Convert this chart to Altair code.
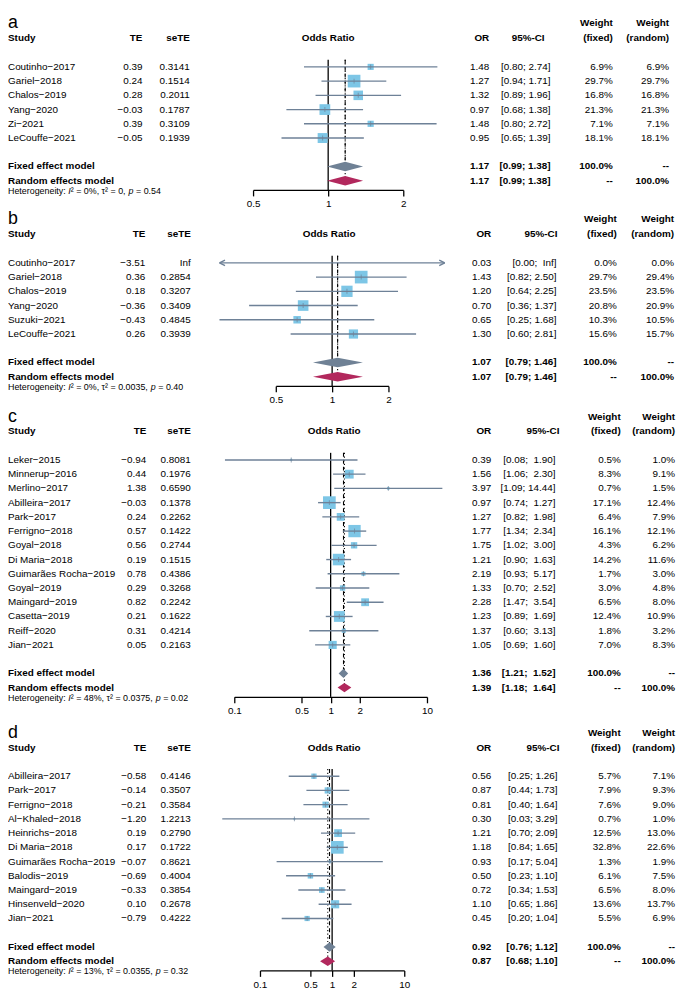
import altair as alt
import pandas as pd

FONT = "Liberation Sans"
MINUS = "\u2212"
NBSP = "\u00a0"
LINE_COL = "#6E8197"
SQ_COL = "#7DC6E6"
FIX_COL = "#6F8195"
RAN_COL = "#B2285D"
INF = float("inf")
ROW_PX = 14.4

# ---------------- panel a ----------------
a_study = ["Coutinho-2017", "Gariel-2018", "Chalos-2019", "Yang-2020", "Zi-2021", "LeCouffe-2021"]
a_te = [0.39, 0.24, 0.28, -0.03, 0.39, -0.05]
a_sete = [0.3141, 0.1514, 0.2011, 0.1787, 0.3109, 0.1939]
a_or = [1.48, 1.27, 1.32, 0.97, 1.48, 0.95]
a_lo = [0.80, 0.94, 0.89, 0.68, 0.80, 0.65]
a_hi = [2.74, 1.71, 1.96, 1.38, 2.72, 1.39]
a_wf = [6.9, 29.7, 16.8, 21.3, 7.1, 18.1]
a_wr = [6.9, 29.7, 16.8, 21.3, 7.1, 18.1]
a_fixed = [1.17, 0.99, 1.38]
a_random = [1.17, 0.99, 1.38]
a_het = ["0%", "0", "0.54"]
a_ticks = [0.5, 1, 2]
a_xlim = [0.4, 3.0]

# ---------------- panel b ----------------
b_study = ["Coutinho-2017", "Gariel-2018", "Chalos-2019", "Yang-2020", "Suzuki-2021", "LeCouffe-2021"]
b_te = [-3.51, 0.36, 0.18, -0.36, -0.43, 0.26]
b_sete = [INF, 0.2854, 0.3207, 0.3409, 0.4845, 0.3939]
b_or = [0.03, 1.43, 1.20, 0.70, 0.65, 1.30]
b_lo = [0.00, 0.82, 0.64, 0.36, 0.25, 0.60]
b_hi = [INF, 2.50, 2.25, 1.37, 1.68, 2.81]
b_wf = [0.0, 29.7, 23.5, 20.8, 10.3, 15.6]
b_wr = [0.0, 29.4, 23.5, 20.9, 10.5, 15.7]
b_fixed = [1.07, 0.79, 1.46]
b_random = [1.07, 0.79, 1.46]
b_het = ["0%", "0.0035", "0.40"]
b_ticks = [0.5, 1, 2]
b_xlim = [0.25, 4.0]

# ---------------- panel c ----------------
c_study = ["Leker-2015", "Minnerup-2016", "Merlino-2017", "Abilleira-2017", "Park-2017",
           "Ferrigno-2018", "Goyal-2018", "Di Maria-2018", "Guimarães Rocha-2019", "Goyal-2019",
           "Maingard-2019", "Casetta-2019", "Reiff-2020", "Jian-2021"]
c_te = [-0.94, 0.44, 1.38, -0.03, 0.24, 0.57, 0.56, 0.19, 0.78, 0.29, 0.82, 0.21, 0.31, 0.05]
c_sete = [0.8081, 0.1976, 0.6590, 0.1378, 0.2262, 0.1422, 0.2744, 0.1515, 0.4386, 0.3268,
          0.2242, 0.1622, 0.4214, 0.2163]
c_or = [0.39, 1.56, 3.97, 0.97, 1.27, 1.77, 1.75, 1.21, 2.19, 1.33, 2.28, 1.23, 1.37, 1.05]
c_lo = [0.08, 1.06, 1.09, 0.74, 0.82, 1.34, 1.02, 0.90, 0.93, 0.70, 1.47, 0.89, 0.60, 0.69]
c_hi = [1.90, 2.30, 14.44, 1.27, 1.98, 2.34, 3.00, 1.63, 5.17, 2.52, 3.54, 1.69, 3.13, 1.60]
c_wf = [0.5, 8.3, 0.7, 17.1, 6.4, 16.1, 4.3, 14.2, 1.7, 3.0, 6.5, 12.4, 1.8, 7.0]
c_wr = [1.0, 9.1, 1.5, 12.4, 7.9, 12.1, 6.2, 11.6, 3.0, 4.8, 8.0, 10.9, 3.2, 8.3]
c_fixed = [1.36, 1.21, 1.52]
c_random = [1.39, 1.18, 1.64]
c_het = ["48%", "0.0375", "0.02"]
c_ticks = [0.1, 0.5, 1, 2, 10]
c_xlim = [0.05, 20.0]

# ---------------- panel d ----------------
d_study = ["Abilleira-2017", "Park-2017", "Ferrigno-2018", "Al-Khaled-2018", "Heinrichs-2018",
           "Di Maria-2018", "Guimarães Rocha-2019", "Balodis-2019", "Maingard-2019",
           "Hinsenveld-2020", "Jian-2021"]
d_te = [-0.58, -0.14, -0.21, -1.20, 0.19, 0.17, -0.07, -0.69, -0.33, 0.10, -0.79]
d_sete = [0.4146, 0.3507, 0.3584, 1.2213, 0.2790, 0.1722, 0.8621, 0.4004, 0.3854, 0.2678, 0.4222]
d_or = [0.56, 0.87, 0.81, 0.30, 1.21, 1.18, 0.93, 0.50, 0.72, 1.10, 0.45]
d_lo = [0.25, 0.44, 0.40, 0.03, 0.70, 0.84, 0.17, 0.23, 0.34, 0.65, 0.20]
d_hi = [1.26, 1.73, 1.64, 3.29, 2.09, 1.65, 5.04, 1.10, 1.53, 1.86, 1.04]
d_wf = [5.7, 7.9, 7.6, 0.7, 12.5, 32.8, 1.3, 6.1, 6.5, 13.6, 5.5]
d_wr = [7.1, 9.3, 9.0, 1.0, 13.0, 22.6, 1.9, 7.5, 8.0, 13.7, 6.9]
d_fixed = [0.92, 0.76, 1.12]
d_random = [0.87, 0.68, 1.10]
d_het = ["13%", "0.0355", "0.32"]
d_ticks = [0.1, 0.5, 1, 2, 10]
d_xlim = [0.02, 10.0]

# ---------------- layout (page pixel positions) ----------------
LAYOUT = {
    "a": dict(top=-1.45, te=144, sete=192, odds=332, orx=495, ci=557, cih=551, wf=620, wr=677, x0=256, x1=408),
    "b": dict(top=-1.75, te=147, sete=193, odds=333, orx=497, ci=563, cih=564, wf=624, wr=682, x0=279, x1=393),
    "c": dict(top=-1.85, te=148, sete=193, odds=338, orx=497, ci=562, cih=566, wf=628, wr=683, x0=237, x1=432),
    "d": dict(top=-2.2, te=148, sete=193, odds=338, orx=497, ci=564, cih=566, wf=628, wr=683, x0=263, x1=409),
}
WIDTH = 677
HET_SIZE = 9

# approximate Liberation Sans advance widths (per 1000 em) for the heterogeneity line
CHAR_W = {"H": 722, "e": 556, "t": 278, "r": 333, "o": 556, "g": 556, "n": 556, "i": 222,
          "y": 500, ":": 278, " ": 278, "I": 278, "\u00b2": 333, "=": 584, "%": 889,
          ",": 278, ".": 278, "\u03c4": 441, "p": 556}


def text_w(s, size):
    return sum(CHAR_W.get(ch, 556) for ch in s) * size / 1000.0


def num(v, d=2):
    return f"{v:.{d}f}".replace("-", MINUS)


def build(letter, study, te, sete, orr, lo, hi, wf, wr, fixed, random, het, ticks, xlim):
    L = LAYOUT[letter]
    n = len(study)
    rows = [i + 2 for i in range(n)]
    r_fix, r_ran = n + 3, n + 4
    r_axis = n + 4.65
    top = L["top"]
    height = (r_axis - top) * ROW_PX

    ysc = alt.Scale(domain=[top, r_axis], reverse=True, nice=False, zero=False)
    xsc = alt.Scale(type="log", domain=[ticks[0], ticks[-1]], range=[L["x0"] - 8, L["x1"] - 8], nice=False)
    xax = alt.Axis(values=ticks, format="~g", title=None, grid=False, domainColor="black",
                   domainWidth=1.3, tickColor="black", tickWidth=1.3, tickSize=6, labelFontSize=10,
                   labelFont=FONT, labelColor="black", labelPadding=3, labelFlush=False,
                   labelOverlap=False)

    def X(f):
        return alt.X(f"{f}:Q", scale=xsc, axis=xax)

    def Y(f):
        return alt.Y(f"{f}:Q", scale=ysc, axis=None)

    def text(df, x, align, col="label", bold=False, size=10, baseline="middle", italic=False):
        return alt.Chart(df).mark_text(
            align=align, baseline=baseline, font=FONT, fontSize=size,
            fontWeight="bold" if bold else "normal", fontStyle="italic" if italic else "normal",
            color="black"
        ).encode(x=alt.value(x - 8), y=Y("row"), text=alt.Text(f"{col}:N"))

    def fv(v):
        return "Inf" if v == INF else f"{v:.2f}"
    all_lo = lo + [fixed[1], random[1]]
    all_hi = hi + [fixed[2], random[2]]
    wl = max(len(fv(v)) for v in all_lo)
    wh = max(len(fv(v)) for v in all_hi)

    def ci(l, h):
        return "[" + fv(l).rjust(wl, NBSP) + ";" + NBSP + fv(h).rjust(wh, NBSP) + "]"

    sdf = pd.DataFrame({
        "row": rows,
        "study": [s.replace("-", MINUS) for s in study],
        "te": [num(t) for t in te],
        "sete": ["Inf" if s == INF else f"{s:.4f}" for s in sete],
        "or": [f"{v:.2f}" for v in orr],
        "ci": [ci(l, h) for l, h in zip(lo, hi)],
        "wf": [f"{w:.1f}%" for w in wf],
        "wr": [f"{w:.1f}%" for w in wr],
    })
    pdf = pd.DataFrame({
        "row": [r_fix, r_ran],
        "name": ["Fixed effect model", "Random effects model"],
        "or": [f"{fixed[0]:.2f}", f"{random[0]:.2f}"],
        "ci": [ci(fixed[1], fixed[2]), ci(random[1], random[2])],
        "wf": ["100.0%", "--"],
        "wr": ["--", "100.0%"],
    })
    hdf = pd.DataFrame({"row": [0], "study": ["Study"], "te": ["TE"], "sete": ["seTE"],
                        "odds": ["Odds Ratio"], "or": ["OR"], "ci": ["95%-CI"],
                        "wf": ["(fixed)"], "wr": ["(random)"]})
    wdf = pd.DataFrame({"row": [-1.05], "label": ["Weight"]})
    ldf = pd.DataFrame({"row": [-0.7], "label": [letter]})

    fdf = pd.DataFrame({
        "row": rows,
        "lo_c": [max(v, xlim[0]) for v in lo],
        "hi_c": [min(v, xlim[1]) for v in hi],
    })
    sq_rows = [(r, o, w) for r, o, w in zip(rows, orr, wf) if xlim[0] <= o <= xlim[1] and w > 0]
    sqdf = pd.DataFrame({"row": [s[0] for s in sq_rows], "or": [s[1] for s in sq_rows],
                         "wf": [s[2] for s in sq_rows]})
    larr = pd.DataFrame({"row": [r for r, v in zip(rows, lo) if v < xlim[0]],
                         "x": [xlim[0] for v in lo if v < xlim[0]]})
    rarr = pd.DataFrame({"row": [r for r, v in zip(rows, hi) if v > xlim[1]],
                         "x": [xlim[1] for v in hi if v > xlim[1]]})

    layers = []
    layers.append(alt.Chart(pd.DataFrame({"x": [1.0], "y": [1.5], "y2": [r_axis]})).mark_rule(
        color="black", strokeWidth=1.3).encode(x=X("x"), y=Y("y"), y2="y2"))
    layers.append(alt.Chart(pd.DataFrame({"x": [fixed[0]], "y": [1.5], "y2": [r_fix]})).mark_rule(
        color="black", strokeWidth=1.1, strokeDash=[4, 3]).encode(x=X("x"), y=Y("y"), y2="y2"))
    layers.append(alt.Chart(pd.DataFrame({"x": [random[0]], "y": [1.5], "y2": [r_ran]})).mark_rule(
        color="black", strokeWidth=1.1, strokeDash=[1.2, 2.5]).encode(x=X("x"), y=Y("y"), y2="y2"))
    layers.append(alt.Chart(sqdf).mark_square(color=SQ_COL, opacity=1, strokeWidth=0).encode(
        x=X("or"), y=Y("row"),
        size=alt.Size("wf:Q", scale=alt.Scale(domain=[0, max(wf)], range=[0, 165]), legend=None)))
    layers.append(alt.Chart(fdf).mark_rule(color=LINE_COL, strokeWidth=1.4).encode(
        x=X("lo_c"), x2="hi_c", y=Y("row")))
    layers.append(alt.Chart(sqdf).mark_tick(orient="vertical", color=LINE_COL, size=5, thickness=1).encode(
        x=X("or"), y=Y("row")))
    if len(larr):
        layers.append(alt.Chart(larr).mark_point(
            shape="M0,0L1.6,-0.8M0,0L1.6,0.8", filled=False, color=LINE_COL, strokeWidth=1.4,
            size=49, opacity=1).encode(x=X("x"), y=Y("row")))
    if len(rarr):
        layers.append(alt.Chart(rarr).mark_point(
            shape="M0,0L-1.6,-0.8M0,0L-1.6,0.8", filled=False, color=LINE_COL, strokeWidth=1.4,
            size=49, opacity=1).encode(x=X("x"), y=Y("row")))
    for vals, r, col in [(fixed, r_fix, FIX_COL), (random, r_ran, RAN_COL)]:
        ddf = pd.DataFrame({"x": [vals[1], vals[0], vals[2]],
                            "yt": [r, r - 0.33, r], "yb": [r, r + 0.33, r]})
        layers.append(alt.Chart(ddf).mark_area(color=col, orient="vertical", opacity=1).encode(
            x=X("x"), y=Y("yt"), y2="yb"))

    layers.append(text(ldf, 8, "left", size=18, baseline="alphabetic"))
    layers.append(text(wdf, L["wf"], "right", bold=True))
    layers.append(text(wdf, L["wr"], "right", bold=True))
    layers.append(text(hdf, 8, "left", col="study", bold=True))
    layers.append(text(hdf, L["te"], "right", col="te", bold=True))
    layers.append(text(hdf, L["sete"], "right", col="sete", bold=True))
    layers.append(text(hdf, L["odds"], "center", col="odds", bold=True))
    layers.append(text(hdf, L["orx"], "right", col="or", bold=True))
    layers.append(text(hdf, L["cih"], "right", col="ci", bold=True))
    layers.append(text(hdf, L["wf"], "right", col="wf", bold=True))
    layers.append(text(hdf, L["wr"], "right", col="wr", bold=True))

    layers.append(text(sdf, 8, "left", col="study"))
    layers.append(text(sdf, L["te"], "right", col="te"))
    layers.append(text(sdf, L["sete"], "right", col="sete"))
    layers.append(text(sdf, L["orx"], "right", col="or"))
    layers.append(text(sdf, L["ci"], "right", col="ci"))
    layers.append(text(sdf, L["wf"], "right", col="wf"))
    layers.append(text(sdf, L["wr"], "right", col="wr"))

    layers.append(text(pdf, 8, "left", col="name", bold=True))
    layers.append(text(pdf, L["orx"], "right", col="or", bold=True))
    layers.append(text(pdf, L["ci"], "right", col="ci", bold=True))
    layers.append(text(pdf, L["wf"], "right", col="wf", bold=True))
    layers.append(text(pdf, L["wr"], "right", col="wr", bold=True))

    # heterogeneity line with italic I and p
    segs = [("Heterogeneity: ", False), ("I", True),
            (f"\u00b2 = {het[0]}, \u03c4\u00b2 = {het[1]}, ", False), ("p", True),
            (f" = {het[2]}", False)]
    xpos = 8.0
    r_het = r_ran + 0.72
    for s, it in segs:
        lead = len(s) - len(s.lstrip(" "))
        x_here = xpos + text_w(" " * lead, HET_SIZE)
        layers.append(text(pd.DataFrame({"row": [r_het], "label": [s.strip(" ")]}), x_here, "left",
                           size=HET_SIZE, italic=it))
        xpos += text_w(s, HET_SIZE)

    return alt.layer(*layers).properties(width=WIDTH, height=height)


pa = build("a", a_study, a_te, a_sete, a_or, a_lo, a_hi, a_wf, a_wr, a_fixed, a_random, a_het, a_ticks, a_xlim)
pb = build("b", b_study, b_te, b_sete, b_or, b_lo, b_hi, b_wf, b_wr, b_fixed, b_random, b_het, b_ticks, b_xlim)
pc = build("c", c_study, c_te, c_sete, c_or, c_lo, c_hi, c_wf, c_wr, c_fixed, c_random, c_het, c_ticks, c_xlim)
pd_ = build("d", d_study, d_te, d_sete, d_or, d_lo, d_hi, d_wf, d_wr, d_fixed, d_random, d_het, d_ticks, d_xlim)

chart = alt.vconcat(pa, pb, pc, pd_, spacing=0).resolve_scale(
    x="independent", y="independent", size="independent"
).properties(padding=0, background="white").configure_view(stroke=None)

chart.save("out.html", embed_options={"renderer": "svg", "actions": False})
